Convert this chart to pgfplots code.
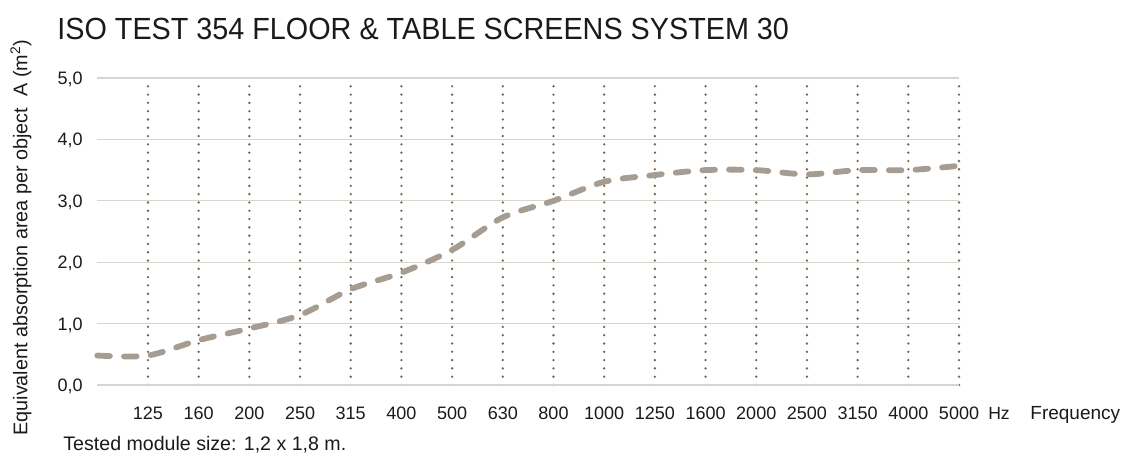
\documentclass[border=0pt]{standalone}
\usepackage{fontspec}
\setmainfont{Liberation Sans}
\usepackage{pgfplots}
\pgfplotsset{compat=1.18}
\definecolor{curvec}{HTML}{A69C92}
\definecolor{vgrid}{HTML}{76664F}
\definecolor{hgrid}{HTML}{D8D4CE}
\definecolor{txt}{HTML}{1A1A1A}
\begin{document}
\begin{tikzpicture}
\useasboundingbox (0,0) rectangle (561pt,228pt);
\begin{axis}[
  at={(48.65pt,35.5pt)}, anchor=south west,
  scale only axis, width=430.85pt, height=153.5pt,
  xmin=-1, xmax=16, ymin=0, ymax=5,
  xtick={0,...,16},
  xticklabels={125,160,200,250,315,400,500,630,800,1000,1250,1600,2000,2500,3150,4000,5000},
  ytick={0,1,2,3,4,5},
  axis line style={draw=none},
  major tick length=0pt,
  xmajorgrids, ymajorgrids,
  x grid style={vgrid, line width=1.3pt, line cap=round, dash pattern=on 0pt off 4.1486pt},
  y grid style={hgrid, line width=0.6pt},
  yticklabel style={anchor=base east, inner sep=0pt, xshift=-7.15pt, yshift=-3.2pt, font=\fontsize{9}{10}\selectfont, text=txt},
  xticklabel style={anchor=base, inner sep=0pt, yshift=-17pt, font=\fontsize{9}{10}\selectfont, text=txt},
  /pgf/number format/fixed,
  /pgf/number format/fixed zerofill,
  /pgf/number format/precision=1,
  /pgf/number format/use comma,
  /pgf/number format/assume math mode=true,
  clip=false,
]
\addplot[curvec, line width=2.9pt, line cap=round, dash pattern=on 6.3pt off 7.05pt, smooth, tension=0.5] table {
x y
-1 0.48
0 0.48
1 0.73
2 0.92
3 1.14
4 1.56
5 1.83
6 2.20
7 2.73
8 3.00
9 3.31
10 3.42
11 3.50
12 3.50
13 3.43
14 3.50
15 3.50
16 3.57
};
\end{axis}
\node[anchor=base west, inner sep=0pt, text=txt] at (28.5pt,208pt) {\scalebox{0.94}[1]{\fontsize{15.3}{18}\selectfont ISO TEST 354 FLOOR \& TABLE SCREENS SYSTEM 30}};
\node[rotate=90, inner sep=0pt, text=txt] at (10.5pt,109.25pt) {\fontsize{9.9}{11}\selectfont Equivalent absorption area per object\ \ A (m\textsuperscript{2})};
\node[anchor=base, inner sep=0pt, text=txt] at (499.5pt,18.5pt) {\fontsize{8.8}{10}\selectfont Hz};
\node[anchor=base west, inner sep=0pt, text=txt] at (515pt,18.5pt) {\fontsize{9.5}{11}\selectfont Frequency};
\node[anchor=base west, inner sep=0pt, text=txt] at (31.5pt,3pt) {\fontsize{9.8}{11}\selectfont Tested module size: 1,2 x 1,8 m.};
\end{tikzpicture}
\end{document}
